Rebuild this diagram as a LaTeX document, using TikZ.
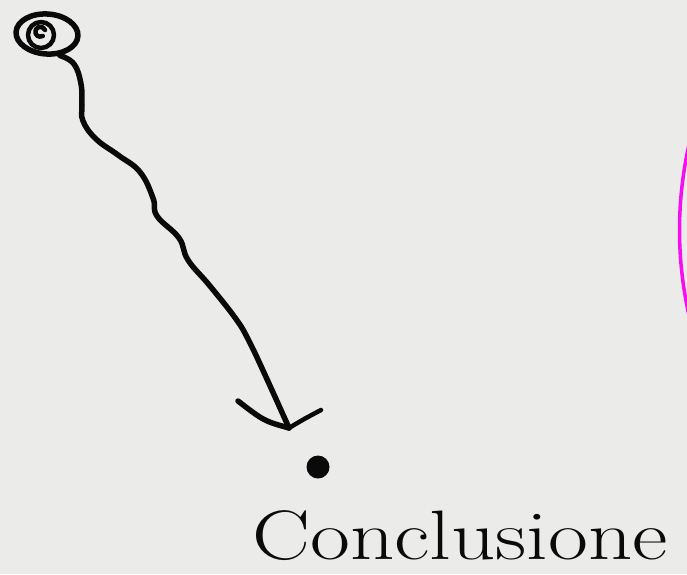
\documentclass[tikz,border=0pt]{standalone}
\usepackage{tikz}
\usepackage{xcolor}
\usetikzlibrary{arrows.meta,calc,positioning,shapes.geometric}
\definecolor{paper}{HTML}{EBEBE9}
\definecolor{ink}{HTML}{0A0A0A}
\definecolor{pinkline}{HTML}{F40EF0}
\tikzset{
  pen/.style={draw=ink,line width=5.5pt,line cap=round,line join=round},
  thinpen/.style={pen,line width=4.5pt},
  scribble/.style={ellipse,draw=ink,line width=5.5pt,minimum width=62pt,minimum height=40pt,inner sep=0pt},
  blob/.style={circle,fill=ink,minimum size=23pt,inner sep=0pt},
  handtext/.style={font=\fontsize{70}{70}\selectfont,text=ink,inner sep=0pt}
}
\begin{document}
\begin{tikzpicture}[x=1pt,y=-1pt]
    \fill[paper] (0,0) rectangle (687,574);
    \useasboundingbox (0,0) rectangle (687,574);
    % start scribble
    \node[scribble,rotate=-4] (start) at (47,34) {};
    \draw[thinpen] (41,35) circle[radius=13pt];
    \draw[thinpen] (45,30) arc[start angle=20,end angle=300,radius=5pt];
    % end point and label
    \node[blob] (dot) at (318,467) {};
    \node[handtext,anchor=base west] (label) at (252,559) {\scalebox{1.24}[1]{Conclusione}};
    \coordinate (tip) at (289,428);
    \draw[pen] plot[smooth,tension=0.7] coordinates {(start.-55) (74,64) (81,84) (82,105) (83,121) (96,139) (118,155) (140,172) (153,198) (157,216) (179,238) (188,260) (210,286) (236,319) (249,341) (266,377) (tip)};
    \draw[pen] (tip) .. controls (264,421) .. (238,401);
    \draw[thinpen] (tip) .. controls (304,419) .. (321,410);
    % magenta edge
    \draw[pinkline,line width=3.5pt] (690,140) .. controls (676,200) and (676,260) .. (690,320);
\end{tikzpicture}
\end{document}
